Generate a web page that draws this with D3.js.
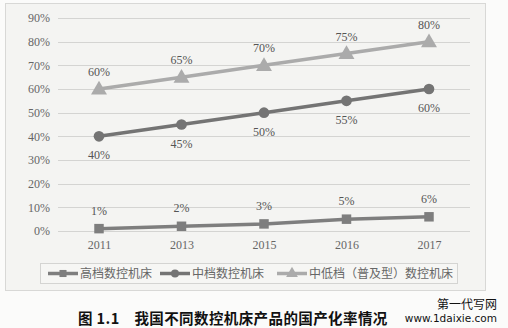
<!DOCTYPE html>
<html>
<head>
<meta charset="utf-8">
<script src="https://cdn.jsdelivr.net/npm/d3@7"></script>
<style>
  body { margin: 0; background: #fbfbfa; }
  svg { display: block; }
</style>
</head>
<body>
<script>
const years = ["2011", "2013", "2015", "2016", "2017"];
const highEnd = [1, 2, 3, 5, 6];
const midEnd = [40, 45, 50, 55, 60];
const lowEnd = [60, 65, 70, 75, 80];
const yTicks = [0, 10, 20, 30, 40, 50, 60, 70, 80, 90];
const seriesNames = ["高档数控机床", "中档数控机床", "中低档（普及型）数控机床"];

const W = 508, H = 328;
const serif = "'Liberation Serif', 'Times New Roman', serif";
const cjk = "'Noto Sans CJK SC', sans-serif";

const svg = d3.select("body").append("svg").attr("width", W).attr("height", H);

// chart frame
svg.append("rect")
  .attr("x", 5.5).attr("y", 3.5).attr("width", 480).attr("height", 287)
  .attr("fill", "#f4f4f2").attr("stroke", "#d8d8d6");

const x = d3.scalePoint().domain(years).range([99, 429]);
const y = d3.scaleLinear().domain([0, 90]).range([231, 18]);

// gridlines
svg.append("g").selectAll("line").data(yTicks).enter().append("line")
  .attr("x1", 58).attr("x2", 470)
  .attr("y1", d => Math.round(y(d)) + 0.5).attr("y2", d => Math.round(y(d)) + 0.5)
  .attr("stroke", "#d4d4d2").attr("stroke-width", 1);

// y axis labels
const yAxis = svg.append("g").attr("transform", "translate(50,0)")
  .call(d3.axisLeft(y).tickValues(yTicks).tickFormat(d => d + "%").tickSize(0).tickPadding(0));
yAxis.select(".domain").remove();
yAxis.selectAll("text").attr("font-family", serif).attr("font-size", 12).attr("fill", "#666");

// x axis labels
const xAxis = svg.append("g").attr("transform", "translate(0,240)")
  .call(d3.axisBottom(x).tickSize(0).tickPadding(0));
xAxis.select(".domain").remove();
xAxis.selectAll("text").attr("font-family", serif).attr("font-size", 12).attr("fill", "#666");

const series = [
  { name: seriesNames[0], values: highEnd, color: "#7e7e7e", shape: "square", dy: -14 },
  { name: seriesNames[1], values: midEnd, color: "#747474", shape: "circle", dy: 23 },
  { name: seriesNames[2], values: lowEnd, color: "#ababab", shape: "triangle", dy: -13 }
];

function symbolPath(shape, size) {
  const t = shape === "square" ? d3.symbolSquare : shape === "circle" ? d3.symbolCircle : d3.symbolTriangle;
  return d3.symbol().type(t).size(size)();
}

const line = d3.line().x((d, i) => x(years[i])).y(d => y(d));

series.forEach(s => {
  const g = svg.append("g");
  g.append("path").datum(s.values)
    .attr("d", line).attr("fill", "none")
    .attr("stroke", s.color).attr("stroke-width", 3.5);
  g.selectAll(".pt").data(s.values).enter().append("path")
    .attr("class", "pt")
    .attr("transform", (d, i) => "translate(" + x(years[i]) + "," + (y(d) + (s.shape === "triangle" ? 1 : 0)) + ")")
    .attr("d", symbolPath(s.shape, s.shape === "triangle" ? 110 : 90))
    .attr("fill", s.color);
  g.selectAll(".lbl").data(s.values).enter().append("text")
    .attr("x", (d, i) => x(years[i]))
    .attr("y", d => y(d) + s.dy)
    .attr("text-anchor", "middle")
    .attr("font-family", serif).attr("font-size", 12).attr("fill", "#555")
    .text(d => d + "%");
});

// legend
const legend = svg.append("g");
legend.append("rect")
  .attr("x", 40.5).attr("y", 263.5).attr("width", 417).attr("height", 20)
  .attr("fill", "#f6f6f4").attr("stroke", "#d4d4d2");
const legendX = [48, 160, 277];
series.forEach((s, i) => {
  const lx = legendX[i];
  legend.append("line")
    .attr("x1", lx).attr("x2", lx + 30).attr("y1", 273.5).attr("y2", 273.5)
    .attr("stroke", s.color).attr("stroke-width", 3.5);
  legend.append("path")
    .attr("transform", "translate(" + (lx + 15) + ",273.5)")
    .attr("d", symbolPath(s.shape, s.shape === "triangle" ? 60 : 50))
    .attr("fill", s.color);
  legend.append("text")
    .attr("x", lx + 32).attr("y", 278)
    .attr("font-family", cjk).attr("font-size", 12).attr("fill", "#666")
    .text(s.name);
});

// caption
svg.append("text")
  .attr("x", 78).attr("y", 324)
  .attr("font-family", cjk).attr("font-size", 14.5).attr("font-weight", "bold").attr("fill", "#111")
  .attr("letter-spacing", 0.4)
  .attr("xml:space", "preserve")
  .text("图 1.1    我国不同数控机床产品的国产化率情况");

// watermark
svg.append("text")
  .attr("x", 497).attr("y", 309).attr("text-anchor", "end")
  .attr("font-family", cjk).attr("font-size", 12).attr("fill", "#111")
  .text("第一代写网");
svg.append("text")
  .attr("x", 497).attr("y", 322).attr("text-anchor", "end")
  .attr("font-family", "'DejaVu Sans', sans-serif").attr("font-size", 10.5).attr("fill", "#111")
  .text("www.1daixie.com");
</script>
</body>
</html>
